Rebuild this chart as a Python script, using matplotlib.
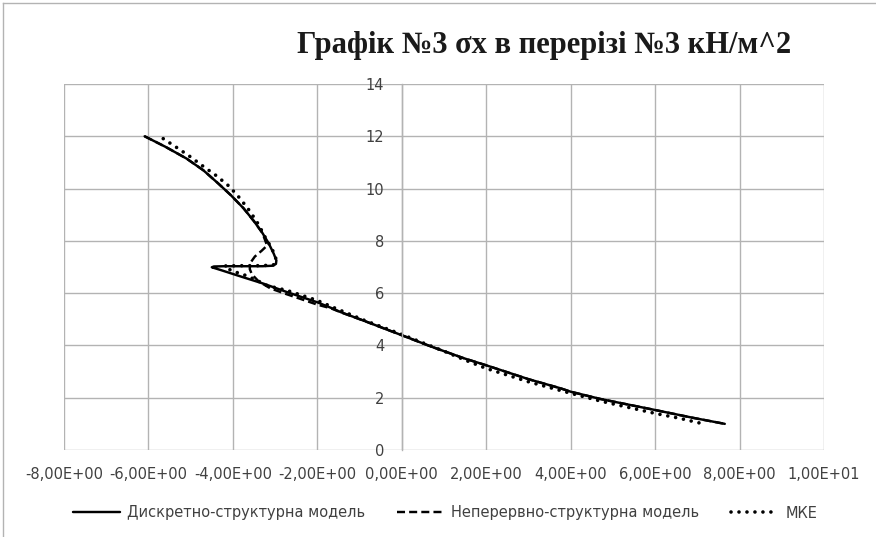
import matplotlib
matplotlib.use("Agg")
import matplotlib.pyplot as plt
from matplotlib.lines import Line2D

# ---- data ----
disc_x = [-6.09, -5.60, -5.10, -4.70, -4.35, -4.05, -3.75, -3.50, -3.30, -3.15, -3.03, -2.97,
          -2.98, -3.05, -3.30, -3.80, -4.20, -4.45, -4.50, -4.30, -3.80, -3.27, -2.70, -2.00,
          -1.68, -1.44, -0.89, 0.00, 0.69, 1.47, 2.00, 3.00, 3.76, 4.00, 4.71, 6.00, 6.90, 7.65]
disc_y = [12.00, 11.60, 11.15, 10.70, 10.20, 9.75, 9.25, 8.75, 8.30, 7.90, 7.50, 7.25,
          7.12, 7.05, 7.03, 7.03, 7.03, 7.02, 6.99, 6.89, 6.63, 6.36, 6.03, 5.65,
          5.44, 5.27, 4.94, 4.39, 3.96, 3.51, 3.24, 2.71, 2.36, 2.23, 1.95, 1.53, 1.23, 1.00]

cont_x = [-6.09, -5.60, -5.10, -4.70, -4.35, -4.05, -3.75, -3.50, -3.30, -3.19, -3.32, -3.48,
          -3.59, -3.60, -3.55, -3.39, -3.11, -2.71, -2.40, -2.00, -1.68, -1.40, -0.89,
          0.00, 0.69, 1.47, 2.00, 3.00, 3.76, 4.00, 4.71, 6.00, 6.90, 7.65]
cont_y = [12.00, 11.60, 11.15, 10.70, 10.20, 9.75, 9.25, 8.75, 8.30, 7.82, 7.62, 7.40,
          7.15, 6.92, 6.72, 6.45, 6.18, 5.95, 5.78, 5.56, 5.42, 5.24, 4.94,
          4.39, 3.96, 3.51, 3.24, 2.71, 2.36, 2.23, 1.95, 1.53, 1.23, 1.00]

mke_x = [-5.65, -5.33, -5.02, -4.71, -4.39, -4.09, -3.84, -3.60, -3.39, -3.22, -3.08, -2.99,
         -2.97, -3.05, -3.40, -3.90, -4.20, -4.02, -3.79, -3.43, -3.19, -2.71, -2.00, -1.60,
         -0.90, 0.00, 1.00, 1.50, 2.00, 3.00, 4.00, 4.71, 6.00, 6.59, 7.14]
mke_y = [11.91, 11.57, 11.23, 10.86, 10.49, 10.09, 9.64, 9.14, 8.62, 8.09, 7.72, 7.38,
         7.18, 7.07, 7.05, 7.05, 7.04, 6.84, 6.74, 6.49, 6.29, 6.10, 5.72, 5.44,
         4.97, 4.42, 3.78, 3.44, 3.12, 2.61, 2.17, 1.87, 1.40, 1.21, 1.00]

labels = ["Дискретно-структурна модель", "Неперервно-структурна модель", "МКЕ"]
title = "Графік №3 σx в перерізі №3 кН/м^2"
x_ticks = [-8, -6, -4, -2, 0, 2, 4, 6, 8, 10]
y_ticks = [0, 2, 4, 6, 8, 10, 12, 14]

# ---- figure ----
fig = plt.figure(figsize=(8.76, 5.37), dpi=100)
ax = fig.add_axes([64/876, 1-450/537, (824-64)/876, (450-84)/537])

grid_c = "#b3b3b3"
txt_c = "#404040"
ax.set_xlim(-8, 10)
ax.set_ylim(0, 14)
ax.set_xticks(x_ticks)
ax.set_yticks(y_ticks)
ax.grid(True, color=grid_c, lw=1.0)
ax.set_axisbelow(True)

for s in ["top", "right", "bottom"]:
    ax.spines[s].set_visible(False)
ax.spines["left"].set_position(("data", 0))
ax.spines["left"].set_color(grid_c)
ax.spines["left"].set_linewidth(1.0)

ax.tick_params(axis="both", length=0, labelsize=10.5, colors=txt_c)
ax.tick_params(axis="x", pad=12)
ax.tick_params(axis="y", pad=12.5)
ax.set_xticklabels([f"{v:.2E}".replace(".", ",") for v in x_ticks])
ax.set_yticklabels([str(v) for v in y_ticks])
for t in ax.get_xticklabels() + ax.get_yticklabels():
    t.set_fontfamily("Liberation Sans Narrow")
    t.set_color(txt_c)

ax.plot(disc_x, disc_y, color="black", lw=1.75, label=labels[0],
        solid_capstyle="round", solid_joinstyle="round")
ax.plot(cont_x, cont_y, color="black", lw=1.75, linestyle=(0, (3.3, 1.7)), label=labels[1])
ax.plot(mke_x, mke_y, color="black", lw=2.6, linestyle=(0, (0.01, 2.2)),
        dash_capstyle="round", label=labels[2])

leg = fig.legend(loc="center", bbox_to_anchor=(445/876, 1-513/537), ncol=3, frameon=False,
                 handlelength=3.2, columnspacing=2.2, handletextpad=0.5,
                 prop={"family": "Liberation Sans Narrow", "size": 10.5})
for t in leg.get_texts():
    t.set_color(txt_c)

fig.text(544/876, 1-53/537, title, ha="center", va="baseline", fontsize=22,
         fontweight="bold", family="Liberation Serif", color="#1a1a1a")

# chart area border (left and top edges visible)
fig.add_artist(Line2D([3/876, 3/876], [0, 1-3/537], color="#b3b3b3", lw=1))
fig.add_artist(Line2D([3/876, 1], [1-3/537, 1-3/537], color="#b3b3b3", lw=1))

fig.savefig("out.png", dpi=100)
